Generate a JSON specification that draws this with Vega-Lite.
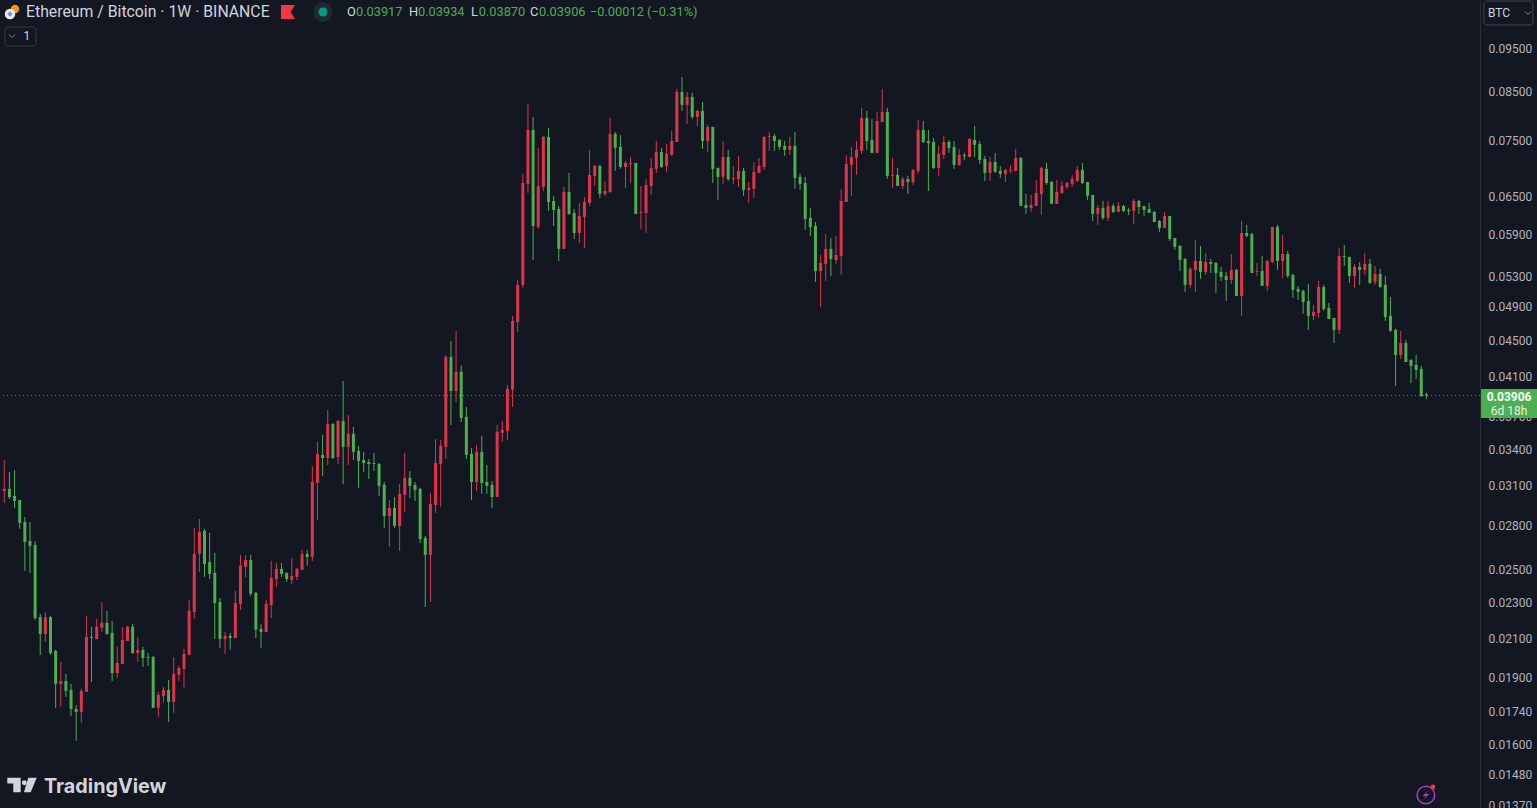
{
"$schema":"https://vega.github.io/schema/vega-lite/v6.json",
"width":1480,"height":808,
"autosize":"none",
"padding":{"left":0,"top":0,"right":57,"bottom":0},
"background":"#131722",
"datasets":{"candles":[
{"i":0,"o":0.0306,"h":0.03312,"l":0.02968,"c":0.03076},
{"i":1,"o":0.03076,"h":0.03212,"l":0.02998,"c":0.03013},
{"i":2,"o":0.03021,"h":0.03229,"l":0.0293,"c":0.02983},
{"i":3,"o":0.0299,"h":0.0299,"l":0.02777,"c":0.0282},
{"i":4,"o":0.02827,"h":0.02863,"l":0.02495,"c":0.02686},
{"i":5,"o":0.02692,"h":0.02827,"l":0.02482,"c":0.02659},
{"i":6,"o":0.02666,"h":0.02692,"l":0.022,"c":0.02211},
{"i":7,"o":0.02216,"h":0.02234,"l":0.02012,"c":0.02123},
{"i":8,"o":0.02123,"h":0.02245,"l":0.0208,"c":0.02216},
{"i":9,"o":0.02216,"h":0.02222,"l":0.02012,"c":0.02022},
{"i":10,"o":0.02033,"h":0.02038,"l":0.01757,"c":0.01868},
{"i":11,"o":0.01868,"h":0.01976,"l":0.01762,"c":0.01882},
{"i":12,"o":0.01882,"h":0.01917,"l":0.01807,"c":0.01835},
{"i":13,"o":0.0184,"h":0.01868,"l":0.01721,"c":0.01752},
{"i":14,"o":0.01752,"h":0.0177,"l":0.01615,"c":0.01739},
{"i":15,"o":0.01739,"h":0.01845,"l":0.01691,"c":0.01835},
{"i":16,"o":0.01831,"h":0.02222,"l":0.01831,"c":0.02107},
{"i":17,"o":0.02107,"h":0.02162,"l":0.01878,"c":0.02101},
{"i":18,"o":0.02096,"h":0.02206,"l":0.02096,"c":0.02162},
{"i":19,"o":0.02156,"h":0.02303,"l":0.02134,"c":0.02184},
{"i":20,"o":0.02184,"h":0.02252,"l":0.02118,"c":0.02123},
{"i":21,"o":0.02129,"h":0.02195,"l":0.01882,"c":0.01921},
{"i":22,"o":0.01921,"h":0.02054,"l":0.01897,"c":0.01971},
{"i":23,"o":0.01966,"h":0.02162,"l":0.01966,"c":0.0209},
{"i":24,"o":0.02085,"h":0.02167,"l":0.02085,"c":0.02162},
{"i":25,"o":0.02162,"h":0.02178,"l":0.02017,"c":0.02022},
{"i":26,"o":0.02022,"h":0.02107,"l":0.01976,"c":0.02038},
{"i":27,"o":0.02038,"h":0.02054,"l":0.01951,"c":0.01996},
{"i":28,"o":0.02001,"h":0.02022,"l":0.01956,"c":0.01996},
{"i":29,"o":0.02001,"h":0.02007,"l":0.01757,"c":0.01757},
{"i":30,"o":0.01757,"h":0.01831,"l":0.01717,"c":0.01817},
{"i":31,"o":0.01812,"h":0.01854,"l":0.0178,"c":0.0184},
{"i":32,"o":0.0184,"h":0.01887,"l":0.01695,"c":0.01784},
{"i":33,"o":0.01784,"h":0.02001,"l":0.01735,"c":0.01917},
{"i":34,"o":0.01912,"h":0.01956,"l":0.01882,"c":0.01946},
{"i":35,"o":0.01941,"h":0.02043,"l":0.0185,"c":0.02017},
{"i":36,"o":0.02012,"h":0.02315,"l":0.02012,"c":0.02252},
{"i":37,"o":0.02245,"h":0.02784,"l":0.02206,"c":0.02605},
{"i":38,"o":0.02605,"h":0.02848,"l":0.02488,"c":0.02756},
{"i":39,"o":0.02763,"h":0.02777,"l":0.02456,"c":0.02539},
{"i":40,"o":0.02552,"h":0.02749,"l":0.02443,"c":0.02475},
{"i":41,"o":0.02482,"h":0.02612,"l":0.02096,"c":0.02298},
{"i":42,"o":0.02303,"h":0.02327,"l":0.02048,"c":0.02096},
{"i":43,"o":0.02096,"h":0.02134,"l":0.02017,"c":0.02112},
{"i":44,"o":0.02112,"h":0.02129,"l":0.02038,"c":0.02101},
{"i":45,"o":0.02101,"h":0.0237,"l":0.02101,"c":0.02298},
{"i":46,"o":0.02292,"h":0.02598,"l":0.02257,"c":0.02527},
{"i":47,"o":0.0252,"h":0.02598,"l":0.02456,"c":0.02565},
{"i":48,"o":0.02565,"h":0.02598,"l":0.02339,"c":0.02352},
{"i":49,"o":0.02358,"h":0.02364,"l":0.02101,"c":0.02145},
{"i":50,"o":0.0215,"h":0.02178,"l":0.02049,"c":0.02134},
{"i":51,"o":0.02134,"h":0.02315,"l":0.02134,"c":0.02292},
{"i":52,"o":0.02286,"h":0.02559,"l":0.02211,"c":0.0245},
{"i":53,"o":0.02443,"h":0.02546,"l":0.02394,"c":0.02507},
{"i":54,"o":0.02507,"h":0.02546,"l":0.02456,"c":0.02475},
{"i":55,"o":0.02482,"h":0.02482,"l":0.02425,"c":0.02443},
{"i":56,"o":0.02437,"h":0.02578,"l":0.02413,"c":0.02462},
{"i":57,"o":0.02456,"h":0.02514,"l":0.02437,"c":0.02507},
{"i":58,"o":0.02501,"h":0.02632,"l":0.02501,"c":0.02605},
{"i":59,"o":0.02605,"h":0.02632,"l":0.02527,"c":0.02585},
{"i":60,"o":0.02585,"h":0.03262,"l":0.02559,"c":0.03131},
{"i":61,"o":0.03123,"h":0.03469,"l":0.02841,"c":0.03364},
{"i":62,"o":0.03356,"h":0.03532,"l":0.0318,"c":0.03329},
{"i":63,"o":0.03329,"h":0.03765,"l":0.0327,"c":0.03632},
{"i":64,"o":0.03632,"h":0.0364,"l":0.03321,"c":0.03329},
{"i":65,"o":0.03338,"h":0.03669,"l":0.03279,"c":0.0366},
{"i":66,"o":0.0366,"h":0.04054,"l":0.03115,"c":0.03425},
{"i":67,"o":0.03425,"h":0.03717,"l":0.0327,"c":0.03541},
{"i":68,"o":0.03541,"h":0.03605,"l":0.03312,"c":0.03382},
{"i":69,"o":0.0339,"h":0.03434,"l":0.03084,"c":0.03304},
{"i":70,"o":0.03312,"h":0.03382,"l":0.03212,"c":0.03287},
{"i":71,"o":0.03295,"h":0.03321,"l":0.03155,"c":0.03279},
{"i":72,"o":0.03287,"h":0.03373,"l":0.0322,"c":0.03279},
{"i":73,"o":0.03279,"h":0.03287,"l":0.03021,"c":0.031},
{"i":74,"o":0.03108,"h":0.03131,"l":0.02784,"c":0.0287},
{"i":75,"o":0.0287,"h":0.0299,"l":0.02652,"c":0.0293},
{"i":76,"o":0.0293,"h":0.03013,"l":0.02784,"c":0.02798},
{"i":77,"o":0.02798,"h":0.03115,"l":0.02625,"c":0.03037},
{"i":78,"o":0.03029,"h":0.03373,"l":0.029,"c":0.03164},
{"i":79,"o":0.03164,"h":0.0322,"l":0.03005,"c":0.031},
{"i":80,"o":0.03108,"h":0.03131,"l":0.02983,"c":0.03068},
{"i":81,"o":0.03076,"h":0.03084,"l":0.02679,"c":0.02706},
{"i":82,"o":0.02713,"h":0.02727,"l":0.02274,"c":0.02598},
{"i":83,"o":0.02598,"h":0.03045,"l":0.02303,"c":0.0296},
{"i":84,"o":0.02953,"h":0.03495,"l":0.02893,"c":0.03287},
{"i":85,"o":0.03279,"h":0.03486,"l":0.02938,"c":0.03434},
{"i":86,"o":0.03425,"h":0.04333,"l":0.03321,"c":0.0431},
{"i":87,"o":0.0431,"h":0.04491,"l":0.03623,"c":0.03952},
{"i":88,"o":0.03952,"h":0.04608,"l":0.03842,"c":0.0415},
{"i":89,"o":0.0415,"h":0.0422,"l":0.0365,"c":0.03688},
{"i":90,"o":0.03698,"h":0.03794,"l":0.03321,"c":0.03356},
{"i":91,"o":0.03364,"h":0.03417,"l":0.0299,"c":0.03131},
{"i":92,"o":0.03131,"h":0.03443,"l":0.0306,"c":0.03382},
{"i":93,"o":0.03382,"h":0.03523,"l":0.03037,"c":0.03123},
{"i":94,"o":0.03131,"h":0.0327,"l":0.03037,"c":0.031},
{"i":95,"o":0.03108,"h":0.03139,"l":0.0293,"c":0.03013},
{"i":96,"o":0.03013,"h":0.03623,"l":0.03013,"c":0.03559},
{"i":97,"o":0.0355,"h":0.0366,"l":0.03469,"c":0.03577},
{"i":98,"o":0.03568,"h":0.04013,"l":0.03486,"c":0.03973},
{"i":99,"o":0.03963,"h":0.04785,"l":0.03794,"c":0.04726},
{"i":100,"o":0.04714,"h":0.05249,"l":0.04596,"c":0.05183},
{"i":101,"o":0.05183,"h":0.06885,"l":0.05144,"c":0.06727},
{"i":102,"o":0.0671,"h":0.08234,"l":0.06558,"c":0.07705},
{"i":103,"o":0.07705,"h":0.07964,"l":0.05524,"c":0.06027},
{"i":104,"o":0.06012,"h":0.07358,"l":0.05981,"c":0.06676},
{"i":105,"o":0.0666,"h":0.07587,"l":0.06592,"c":0.07567},
{"i":106,"o":0.07567,"h":0.07744,"l":0.06264,"c":0.06408},
{"i":107,"o":0.06424,"h":0.06508,"l":0.06027,"c":0.06279},
{"i":108,"o":0.06295,"h":0.06343,"l":0.0551,"c":0.05683},
{"i":109,"o":0.05683,"h":0.0666,"l":0.05683,"c":0.06575},
{"i":110,"o":0.06575,"h":0.06903,"l":0.062,"c":0.06215},
{"i":111,"o":0.06231,"h":0.06295,"l":0.05829,"c":0.0592},
{"i":112,"o":0.0592,"h":0.06392,"l":0.0577,"c":0.06183},
{"i":113,"o":0.06167,"h":0.06491,"l":0.05698,"c":0.06408},
{"i":114,"o":0.06392,"h":0.07321,"l":0.06343,"c":0.06867},
{"i":115,"o":0.0685,"h":0.07045,"l":0.06676,"c":0.07027},
{"i":116,"o":0.07027,"h":0.07045,"l":0.06474,"c":0.06541},
{"i":117,"o":0.06541,"h":0.06761,"l":0.06508,"c":0.06592},
{"i":118,"o":0.06575,"h":0.07944,"l":0.06558,"c":0.07626},
{"i":119,"o":0.07626,"h":0.07666,"l":0.06938,"c":0.07358},
{"i":120,"o":0.07377,"h":0.07606,"l":0.06974,"c":0.07009},
{"i":121,"o":0.07009,"h":0.07116,"l":0.06643,"c":0.07081},
{"i":122,"o":0.07063,"h":0.0719,"l":0.06727,"c":0.07081},
{"i":123,"o":0.07081,"h":0.07081,"l":0.06215,"c":0.06215},
{"i":124,"o":0.06231,"h":0.06676,"l":0.05981,"c":0.06247},
{"i":125,"o":0.06231,"h":0.06796,"l":0.0592,"c":0.06694},
{"i":126,"o":0.06676,"h":0.07171,"l":0.06525,"c":0.06992},
{"i":127,"o":0.06974,"h":0.07489,"l":0.06903,"c":0.07283},
{"i":128,"o":0.07283,"h":0.07358,"l":0.06992,"c":0.07009},
{"i":129,"o":0.07027,"h":0.07433,"l":0.06921,"c":0.07246},
{"i":130,"o":0.07227,"h":0.07685,"l":0.07209,"c":0.07489},
{"i":131,"o":0.0747,"h":0.08557,"l":0.0747,"c":0.08491},
{"i":132,"o":0.08491,"h":0.0882,"l":0.08089,"c":0.08213},
{"i":133,"o":0.08213,"h":0.08491,"l":0.07823,"c":0.08382},
{"i":134,"o":0.08382,"h":0.08469,"l":0.07923,"c":0.07964},
{"i":135,"o":0.07964,"h":0.08109,"l":0.07784,"c":0.08089},
{"i":136,"o":0.08089,"h":0.08275,"l":0.07339,"c":0.07489},
{"i":137,"o":0.07489,"h":0.07804,"l":0.07283,"c":0.07764},
{"i":138,"o":0.07764,"h":0.07764,"l":0.06727,"c":0.06974},
{"i":139,"o":0.06992,"h":0.06992,"l":0.0644,"c":0.06832},
{"i":140,"o":0.06832,"h":0.07489,"l":0.0671,"c":0.0719},
{"i":141,"o":0.0719,"h":0.07321,"l":0.06761,"c":0.06796},
{"i":142,"o":0.06796,"h":0.07027,"l":0.0671,"c":0.06814},
{"i":143,"o":0.06796,"h":0.07209,"l":0.0666,"c":0.06938},
{"i":144,"o":0.06938,"h":0.06992,"l":0.06508,"c":0.06609},
{"i":145,"o":0.06609,"h":0.06744,"l":0.06392,"c":0.06643},
{"i":146,"o":0.06626,"h":0.07098,"l":0.06474,"c":0.06921},
{"i":147,"o":0.06903,"h":0.07171,"l":0.06903,"c":0.07027},
{"i":148,"o":0.07009,"h":0.07587,"l":0.06956,"c":0.07567},
{"i":149,"o":0.07567,"h":0.07666,"l":0.07302,"c":0.07587},
{"i":150,"o":0.07587,"h":0.07626,"l":0.07302,"c":0.07489},
{"i":151,"o":0.07508,"h":0.07528,"l":0.07321,"c":0.07377},
{"i":152,"o":0.07396,"h":0.07489,"l":0.07209,"c":0.07321},
{"i":153,"o":0.07321,"h":0.07567,"l":0.07227,"c":0.07396},
{"i":154,"o":0.07396,"h":0.07666,"l":0.06626,"c":0.06814},
{"i":155,"o":0.06832,"h":0.06885,"l":0.06609,"c":0.0671},
{"i":156,"o":0.06727,"h":0.06832,"l":0.05966,"c":0.06135},
{"i":157,"o":0.06151,"h":0.06311,"l":0.05875,"c":0.06012},
{"i":158,"o":0.06027,"h":0.06088,"l":0.05223,"c":0.05372},
{"i":159,"o":0.05372,"h":0.05596,"l":0.049,"c":0.05483},
{"i":160,"o":0.05469,"h":0.05905,"l":0.05236,"c":0.05683},
{"i":161,"o":0.05683,"h":0.05844,"l":0.05304,"c":0.05539},
{"i":162,"o":0.05524,"h":0.05875,"l":0.05469,"c":0.05596},
{"i":163,"o":0.05582,"h":0.06626,"l":0.05317,"c":0.06424},
{"i":164,"o":0.06408,"h":0.07227,"l":0.06408,"c":0.07063},
{"i":165,"o":0.07045,"h":0.07377,"l":0.06508,"c":0.0719},
{"i":166,"o":0.07171,"h":0.07489,"l":0.06867,"c":0.07321},
{"i":167,"o":0.07302,"h":0.08151,"l":0.07246,"c":0.07944},
{"i":168,"o":0.07944,"h":0.08089,"l":0.07321,"c":0.07489},
{"i":169,"o":0.07508,"h":0.07923,"l":0.07265,"c":0.07265},
{"i":170,"o":0.07265,"h":0.08068,"l":0.07265,"c":0.07882},
{"i":171,"o":0.07863,"h":0.08557,"l":0.07863,"c":0.08068},
{"i":172,"o":0.08068,"h":0.08151,"l":0.06796,"c":0.0685},
{"i":173,"o":0.0685,"h":0.07171,"l":0.06643,"c":0.06867},
{"i":174,"o":0.06867,"h":0.06992,"l":0.06676,"c":0.06676},
{"i":175,"o":0.06676,"h":0.06832,"l":0.06626,"c":0.06796},
{"i":176,"o":0.06796,"h":0.0685,"l":0.06541,"c":0.06744},
{"i":177,"o":0.06744,"h":0.06974,"l":0.06694,"c":0.06956},
{"i":178,"o":0.06938,"h":0.07902,"l":0.06885,"c":0.07705},
{"i":179,"o":0.07705,"h":0.07882,"l":0.07452,"c":0.0747},
{"i":180,"o":0.07489,"h":0.07705,"l":0.06592,"c":0.07452},
{"i":181,"o":0.0747,"h":0.07547,"l":0.06974,"c":0.06992},
{"i":182,"o":0.06992,"h":0.07396,"l":0.0685,"c":0.07246},
{"i":183,"o":0.07227,"h":0.07587,"l":0.07153,"c":0.0747},
{"i":184,"o":0.0747,"h":0.07508,"l":0.07265,"c":0.07358},
{"i":185,"o":0.07377,"h":0.07489,"l":0.06974,"c":0.07045},
{"i":186,"o":0.07045,"h":0.07339,"l":0.07027,"c":0.07227},
{"i":187,"o":0.07227,"h":0.07265,"l":0.07134,"c":0.07209},
{"i":188,"o":0.0719,"h":0.07547,"l":0.0719,"c":0.07528},
{"i":189,"o":0.07508,"h":0.07784,"l":0.0719,"c":0.07415},
{"i":190,"o":0.07433,"h":0.07489,"l":0.07063,"c":0.07134},
{"i":191,"o":0.07153,"h":0.07209,"l":0.06761,"c":0.06903},
{"i":192,"o":0.06903,"h":0.0719,"l":0.06761,"c":0.07098},
{"i":193,"o":0.07098,"h":0.07265,"l":0.06903,"c":0.06921},
{"i":194,"o":0.06938,"h":0.07027,"l":0.06814,"c":0.06885},
{"i":195,"o":0.06885,"h":0.06974,"l":0.06744,"c":0.06956},
{"i":196,"o":0.06938,"h":0.07045,"l":0.06903,"c":0.06956},
{"i":197,"o":0.06938,"h":0.07339,"l":0.06938,"c":0.07171},
{"i":198,"o":0.07171,"h":0.0719,"l":0.06343,"c":0.06343},
{"i":199,"o":0.06359,"h":0.06541,"l":0.06215,"c":0.06311},
{"i":200,"o":0.06311,"h":0.06525,"l":0.06247,"c":0.06359},
{"i":201,"o":0.06343,"h":0.06778,"l":0.06343,"c":0.06558},
{"i":202,"o":0.06541,"h":0.07009,"l":0.062,"c":0.06992},
{"i":203,"o":0.06974,"h":0.07081,"l":0.06694,"c":0.06727},
{"i":204,"o":0.06744,"h":0.06761,"l":0.06376,"c":0.06376},
{"i":205,"o":0.06376,"h":0.06778,"l":0.06376,"c":0.06575},
{"i":206,"o":0.06558,"h":0.06761,"l":0.06541,"c":0.06676},
{"i":207,"o":0.0666,"h":0.06744,"l":0.06626,"c":0.06727},
{"i":208,"o":0.0671,"h":0.06867,"l":0.0666,"c":0.06796},
{"i":209,"o":0.06761,"h":0.07027,"l":0.06744,"c":0.06956},
{"i":210,"o":0.06956,"h":0.07081,"l":0.0671,"c":0.06727},
{"i":211,"o":0.06744,"h":0.06744,"l":0.0644,"c":0.06508},
{"i":212,"o":0.06525,"h":0.06525,"l":0.06104,"c":0.06215},
{"i":213,"o":0.06215,"h":0.06359,"l":0.06043,"c":0.06311},
{"i":214,"o":0.06311,"h":0.06424,"l":0.06119,"c":0.06151},
{"i":215,"o":0.06151,"h":0.06424,"l":0.06104,"c":0.06343},
{"i":216,"o":0.06343,"h":0.06376,"l":0.06231,"c":0.06247},
{"i":217,"o":0.06247,"h":0.06408,"l":0.06247,"c":0.06343},
{"i":218,"o":0.06343,"h":0.06359,"l":0.06247,"c":0.06264},
{"i":219,"o":0.06279,"h":0.06311,"l":0.062,"c":0.06264},
{"i":220,"o":0.06264,"h":0.06457,"l":0.06058,"c":0.06424},
{"i":221,"o":0.06424,"h":0.0644,"l":0.06215,"c":0.06327},
{"i":222,"o":0.06343,"h":0.06343,"l":0.06183,"c":0.06279},
{"i":223,"o":0.06295,"h":0.06392,"l":0.06231,"c":0.06231},
{"i":224,"o":0.06247,"h":0.06264,"l":0.06088,"c":0.06088},
{"i":225,"o":0.06104,"h":0.06119,"l":0.05936,"c":0.05997},
{"i":226,"o":0.05997,"h":0.06247,"l":0.05997,"c":0.06183},
{"i":227,"o":0.06183,"h":0.06183,"l":0.058,"c":0.05829},
{"i":228,"o":0.05844,"h":0.05844,"l":0.05669,"c":0.05713},
{"i":229,"o":0.05727,"h":0.05742,"l":0.05372,"c":0.05524},
{"i":230,"o":0.05539,"h":0.05553,"l":0.05092,"c":0.05183},
{"i":231,"o":0.05183,"h":0.05427,"l":0.05144,"c":0.054},
{"i":232,"o":0.05386,"h":0.05814,"l":0.05092,"c":0.0551},
{"i":233,"o":0.0551,"h":0.05727,"l":0.05263,"c":0.05359},
{"i":234,"o":0.05359,"h":0.05625,"l":0.05317,"c":0.05496},
{"i":235,"o":0.05496,"h":0.05539,"l":0.05345,"c":0.05469},
{"i":236,"o":0.05483,"h":0.05496,"l":0.05079,"c":0.05345},
{"i":237,"o":0.05359,"h":0.05427,"l":0.05236,"c":0.0529},
{"i":238,"o":0.05304,"h":0.05359,"l":0.04975,"c":0.05249},
{"i":239,"o":0.05249,"h":0.0561,"l":0.05197,"c":0.05386},
{"i":240,"o":0.05386,"h":0.054,"l":0.05039,"c":0.05039},
{"i":241,"o":0.05039,"h":0.06104,"l":0.04788,"c":0.0592},
{"i":242,"o":0.0592,"h":0.06043,"l":0.05859,"c":0.05875},
{"i":243,"o":0.05905,"h":0.0592,"l":0.05345,"c":0.05345},
{"i":244,"o":0.05359,"h":0.05483,"l":0.05304,"c":0.05372},
{"i":245,"o":0.05372,"h":0.05582,"l":0.0517,"c":0.0517},
{"i":246,"o":0.0517,"h":0.05524,"l":0.05105,"c":0.0551},
{"i":247,"o":0.05496,"h":0.06012,"l":0.05483,"c":0.06012},
{"i":248,"o":0.06012,"h":0.06043,"l":0.05386,"c":0.0551},
{"i":249,"o":0.0551,"h":0.0589,"l":0.05276,"c":0.0561},
{"i":250,"o":0.0561,"h":0.05654,"l":0.05276,"c":0.05304},
{"i":251,"o":0.05317,"h":0.05331,"l":0.05013,"c":0.05118},
{"i":252,"o":0.05131,"h":0.0517,"l":0.04987,"c":0.05092},
{"i":253,"o":0.05105,"h":0.05118,"l":0.04813,"c":0.04962},
{"i":254,"o":0.04975,"h":0.05197,"l":0.0462,"c":0.04788},
{"i":255,"o":0.04788,"h":0.04925,"l":0.04738,"c":0.04838},
{"i":256,"o":0.04825,"h":0.05236,"l":0.04763,"c":0.05157},
{"i":257,"o":0.05157,"h":0.05183,"l":0.0485,"c":0.04875},
{"i":258,"o":0.04887,"h":0.0495,"l":0.0475,"c":0.0475},
{"i":259,"o":0.04763,"h":0.04763,"l":0.04468,"c":0.0462},
{"i":260,"o":0.0462,"h":0.05698,"l":0.04573,"c":0.05582},
{"i":261,"o":0.05582,"h":0.05742,"l":0.05441,"c":0.05568},
{"i":262,"o":0.05568,"h":0.05568,"l":0.0521,"c":0.05304},
{"i":263,"o":0.05304,"h":0.05469,"l":0.05144,"c":0.05427},
{"i":264,"o":0.05427,"h":0.05496,"l":0.05183,"c":0.05386},
{"i":265,"o":0.05386,"h":0.05625,"l":0.05317,"c":0.05469},
{"i":266,"o":0.05469,"h":0.05539,"l":0.05197,"c":0.0521},
{"i":267,"o":0.05223,"h":0.05441,"l":0.05183,"c":0.05331},
{"i":268,"o":0.05331,"h":0.054,"l":0.05144,"c":0.05157},
{"i":269,"o":0.05183,"h":0.05304,"l":0.04726,"c":0.04775},
{"i":270,"o":0.04788,"h":0.05026,"l":0.04596,"c":0.04608},
{"i":271,"o":0.0462,"h":0.04632,"l":0.04003,"c":0.04333},
{"i":272,"o":0.04333,"h":0.04608,"l":0.04288,"c":0.04468},
{"i":273,"o":0.04468,"h":0.04502,"l":0.04256,"c":0.04256},
{"i":274,"o":0.04277,"h":0.04288,"l":0.04033,"c":0.04213},
{"i":275,"o":0.04224,"h":0.04333,"l":0.04075,"c":0.0417},
{"i":276,"o":0.04181,"h":0.04213,"l":0.03891,"c":0.03901},
{"i":277,"o":0.03917,"h":0.03934,"l":0.0387,"c":0.03906}
]},
"data":{"values":[{}]},
"layer":[
{"data":{"values":[{"last":0.03906}]},
 "mark":{"type":"rule","color":"#4caf50","strokeWidth":1,"strokeDash":[1,3],"opacity":0.8},
 "encoding":{"y":{"field":"last","type":"quantitative",
  "scale":{"type":"log","domain":[0.013601,0.10741],"nice":false,"zero":false},
  "axis":{"orient":"right","title":null,"grid":false,"ticks":false,"domainColor":"#2a2e39","labelColor":"#b2b5be","labelFontSize":12,"labelFont":"Roboto","labelPadding":8,"labelOverlap":false,"labelBound":false,"labelFlush":false,"format":".5f",
   "values":[0.095,0.085,0.075,0.065,0.059,0.053,0.049,0.045,0.041,0.037,0.034,0.031,0.028,0.025,0.023,0.021,0.019,0.0174,0.016,0.0148,0.0137]}}}},
{"data":{"name":"candles"},
 "mark":{"type":"rule","strokeWidth":1},
 "encoding":{
  "x":{"field":"i","type":"quantitative","scale":{"domain":[-0.8376,287.44],"nice":false,"zero":false,"padding":0}},
  "y":{"field":"h","type":"quantitative"},"y2":{"field":"l"},
  "color":{"condition":{"test":"datum.c > datum.o","value":"#e0334c"},"value":"#4caf50"}}},
{"data":{"name":"candles"},
 "mark":{"type":"bar","size":3},
 "encoding":{
  "x":{"field":"i","type":"quantitative"},
  "y":{"field":"o","type":"quantitative"},"y2":{"field":"c"},
  "color":{"condition":{"test":"datum.c > datum.o","value":"#e0334c"},"value":"#4caf50"}}},

{"mark":{"type":"rect","color":"#4caf50"},"encoding":{"x":{"datum":287.64},"x2":{"datum":298.55},"y":{"datum":0.03972},"y2":{"datum":0.03688}}},
{"mark":{"type":"text","text":"0.03906","color":"#ffffff","font":"Roboto","fontWeight":"bold","fontSize":12,"align":"center"},"encoding":{"x":{"datum":293.1},"y":{"datum":0.03891}}},
{"mark":{"type":"text","text":"6d 18h","color":"#e3f2e4","font":"Roboto","fontSize":12,"align":"center"},"encoding":{"x":{"datum":293.1},"y":{"datum":0.03754}}},

{"mark":{"type":"rect","fill":"#131722","stroke":"#434651","strokeWidth":1,"cornerRadius":3},"encoding":{"x":{"datum":288.2},"x2":{"datum":297.75},"y":{"datum":0.10713},"y2":{"datum":0.10076}}},
{"mark":{"type":"text","text":"BTC","color":"#d1d4dc","font":"Roboto","fontSize":12,"align":"left"},"encoding":{"x":{"datum":289},"y":{"datum":0.10389}}},
{"mark":{"type":"point","shape":"M-1,-0.5L0,0.5L1,-0.5","filled":false,"stroke":"#b2b5be","strokeWidth":1,"size":36},"encoding":{"x":{"datum":296.8},"y":{"datum":0.10389}}},

{"mark":{"type":"circle","color":"#f7931a","size":70,"opacity":1},"encoding":{"x":{"datum":2.08},"y":{"datum":0.10496}}},
{"mark":{"type":"circle","color":"#e8eaf2","size":110,"opacity":1},"encoding":{"x":{"datum":1.11},"y":{"datum":0.10364}}},
{"mark":{"type":"point","shape":"diamond","filled":true,"color":"#7c8fd8","size":30,"opacity":1},"encoding":{"x":{"datum":1.11},"y":{"datum":0.10364}}},
{"mark":{"type":"text","text":"Ethereum / Bitcoin · 1W · BINANCE","color":"#d1d4dc","font":"Roboto","fontSize":15.8,"align":"left"},"encoding":{"x":{"datum":4.23},"y":{"datum":0.10416}}},
{"mark":{"type":"point","shape":"M-1,-1L1,-1L0.35,0L1,1L-1,1Z","filled":true,"color":"#f23645","size":196,"opacity":1},"encoding":{"x":{"datum":55.26},"y":{"datum":0.10416}}},
{"mark":{"type":"circle","color":"#1c2b31","size":380,"opacity":1},"encoding":{"x":{"datum":62.07},"y":{"datum":0.10416}}},
{"mark":{"type":"circle","color":"#089981","size":80,"opacity":1},"encoding":{"x":{"datum":62.07},"y":{"datum":0.10416}}},

{"mark":{"type":"text","text":"O","color":"#d1d4dc","font":"Roboto","fontSize":12.8,"align":"left"},"encoding":{"x":{"datum":66.75},"y":{"datum":0.10416}}},
{"mark":{"type":"text","text":"0.03917","color":"#4caf50","font":"Roboto","fontSize":12.8,"align":"left"},"encoding":{"x":{"datum":68.5},"y":{"datum":0.10416}}},
{"mark":{"type":"text","text":"H","color":"#d1d4dc","font":"Roboto","fontSize":12.8,"align":"left"},"encoding":{"x":{"datum":78.83},"y":{"datum":0.10416}}},
{"mark":{"type":"text","text":"0.03934","color":"#4caf50","font":"Roboto","fontSize":12.8,"align":"left"},"encoding":{"x":{"datum":80.58},"y":{"datum":0.10416}}},
{"mark":{"type":"text","text":"L","color":"#d1d4dc","font":"Roboto","fontSize":12.8,"align":"left"},"encoding":{"x":{"datum":90.9},"y":{"datum":0.10416}}},
{"mark":{"type":"text","text":"0.03870","color":"#4caf50","font":"Roboto","fontSize":12.8,"align":"left"},"encoding":{"x":{"datum":92.4},"y":{"datum":0.10416}}},
{"mark":{"type":"text","text":"C","color":"#d1d4dc","font":"Roboto","fontSize":12.8,"align":"left"},"encoding":{"x":{"datum":102.4},"y":{"datum":0.10416}}},
{"mark":{"type":"text","text":"0.03906","color":"#4caf50","font":"Roboto","fontSize":12.8,"align":"left"},"encoding":{"x":{"datum":104.15},"y":{"datum":0.10416}}},
{"mark":{"type":"text","text":"−0.00012 (−0.31%)","color":"#4caf50","font":"Roboto","fontSize":12.8,"align":"left"},"encoding":{"x":{"datum":114.08},"y":{"datum":0.10416}}},

{"mark":{"type":"rect","fill":"#131722","stroke":"#363a45","strokeWidth":1,"cornerRadius":3},"encoding":{"x":{"datum":0.14},"x2":{"datum":6.17},"y":{"datum":0.10024},"y2":{"datum":0.09549}}},
{"mark":{"type":"point","shape":"M-1,-0.5L0,0.5L1,-0.5","filled":false,"stroke":"#b2b5be","strokeWidth":1,"size":36},"encoding":{"x":{"datum":1.5},"y":{"datum":0.09796}}},
{"mark":{"type":"text","text":"1","color":"#d1d4dc","font":"Roboto","fontSize":12,"align":"center"},"encoding":{"x":{"datum":4.42},"y":{"datum":0.09796}}},

{"mark":{"type":"point","shape":"M-.98,-.48L-.087,-.48L-.087,.48L-.58,.48L-.58,-.1L-.98,-.1ZM.42,-.48L.98,-.48L.58,.48L.13,.48Z","filled":true,"color":"#d1d4dc","size":900,"opacity":1},"encoding":{"x":{"datum":3.45},"y":{"datum":0.014425}}},
{"mark":{"type":"circle","color":"#d1d4dc","size":24,"opacity":1},"encoding":{"x":{"datum":3.9},"y":{"datum":0.01451}}},
{"mark":{"type":"text","text":"TradingView","color":"#d1d4dc","font":"Inter","fontWeight":"bold","fontSize":19.8,"align":"left"},"encoding":{"x":{"datum":7.73},"y":{"datum":0.014352}}},

{"mark":{"type":"point","shape":"circle","filled":false,"stroke":"#a63fc0","strokeWidth":1.5,"size":310,"opacity":1},"encoding":{"x":{"datum":276.9},"y":{"datum":0.01406}}},
{"mark":{"type":"point","shape":"M0.5,-1L-0.7,0.2L0,0.2L-0.5,1L0.7,-0.2L0,-0.2Z","filled":true,"color":"#a63fc0","size":90,"opacity":1},"encoding":{"x":{"datum":276.9},"y":{"datum":0.01406}}},
{"mark":{"type":"circle","color":"#f23645","size":24,"opacity":1},"encoding":{"x":{"datum":278.27},"y":{"datum":0.014352}}}
],
"config":{"view":{"stroke":null},"axisX":{"disable":true},"axisY":{"grid":false}}
}
